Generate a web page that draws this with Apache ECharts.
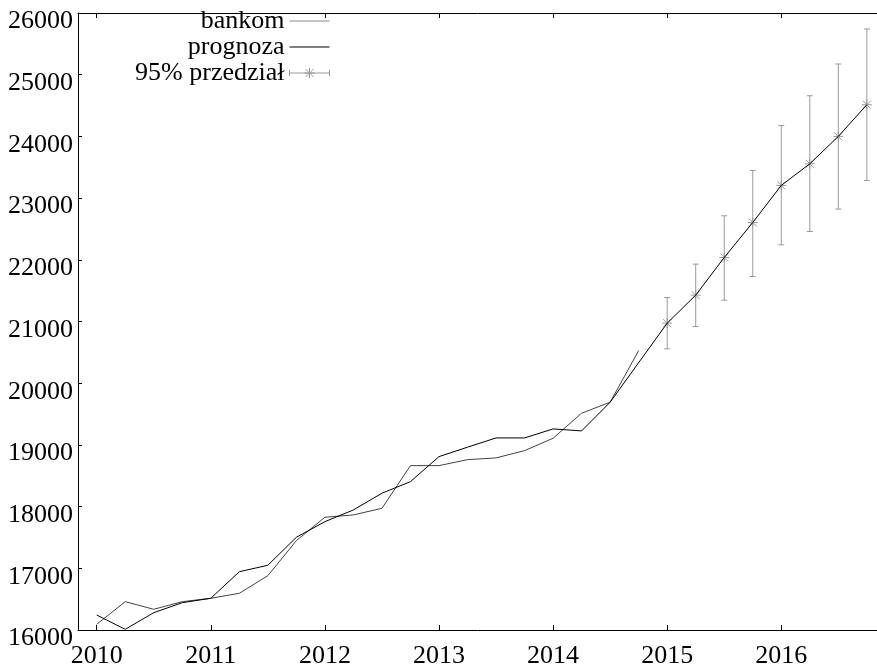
<!DOCTYPE html>
<html>
<head>
<meta charset="utf-8">
<script src="https://cdn.jsdelivr.net/npm/echarts@6/dist/echarts.min.js"></script>
<style>
  html, body { margin: 0; padding: 0; background: #fff; }
  #chart { width: 877px; height: 670px; }
</style>
</head>
<body>
<div id="chart"></div>
<script>
// Quarterly time points (decimal years)
const quarters = [
  2010, 2010.25, 2010.5, 2010.75,
  2011, 2011.25, 2011.5, 2011.75,
  2012, 2012.25, 2012.5, 2012.75,
  2013, 2013.25, 2013.5, 2013.75,
  2014, 2014.25, 2014.5, 2014.75
];

// Observed series
const bankom = [
  16092, 16459, 16336, 16459,
  16514, 16595, 16880, 17448,
  17827, 17865, 17973, 18664,
  18664, 18761, 18789, 18907,
  19108, 19514, 19692, 20529
];

// Fitted values of the model (2010 – 2014.5)
const prognozaFit = [
  16243, 16011, 16281, 16443,
  16514, 16945, 17049, 17503,
  17756, 17946, 18217, 18405,
  18810, 18963, 19113, 19113,
  19259, 19227, 19692
];

// Forecast horizon with its 95% interval
const forecastX = [2015, 2015.25, 2015.5, 2015.75, 2016, 2016.25, 2016.5, 2016.75];
const forecast  = [20973, 21427, 22037, 22605, 23205, 23556, 24000, 24513];
const lower95   = [20557, 20918, 21346, 21729, 22243, 22459, 22822, 23286];
const upper95   = [21388, 21930, 22713, 23448, 24177, 24659, 25173, 25741];

// Axis ticks
const yearTicks = [2010, 2011, 2012, 2013, 2014, 2015, 2016];
const topYearTicks = [2010, 2012, 2013, 2014, 2015, 2016];

const FONT = '"Liberation Serif", "DejaVu Serif", serif';
const BAR_COLOR = '#9a9a9a';

const bankomData = quarters.map((q, i) => [q, bankom[i]]);
const prognozaData = quarters.slice(0, prognozaFit.length)
  .map((q, i) => [q, prognozaFit[i]])
  .concat(forecastX.map((q, i) => [q, forecast[i]]));
const intervalData = forecastX.map((q, i) => [q, forecast[i], lower95[i], upper95[i]]);

function renderErrorBar(params, api) {
  const x = api.value(0);
  const c = api.coord([x, api.value(1)]);
  const lo = api.coord([x, api.value(2)]);
  const hi = api.coord([x, api.value(3)]);
  const cap = 3, s = 5, d = 4;
  const style = { stroke: BAR_COLOR, lineWidth: 1, fill: null };
  const seg = (x1, y1, x2, y2) => ({ type: 'line', shape: { x1, y1, x2, y2 }, style });
  return {
    type: 'group',
    children: [
      seg(lo[0], lo[1], hi[0], hi[1]),
      seg(lo[0] - cap, lo[1], lo[0] + cap, lo[1]),
      seg(hi[0] - cap, hi[1], hi[0] + cap, hi[1]),
      // asterisk marker
      seg(c[0] - s, c[1], c[0] + s, c[1]),
      seg(c[0], c[1] - s, c[0], c[1] + s),
      seg(c[0] - d, c[1] - d, c[0] + d, c[1] + d),
      seg(c[0] - d, c[1] + d, c[0] + d, c[1] - d)
    ]
  };
}

// Plain line sample for legend entries (corner moves keep the box 40x14)
const LINE_ICON = 'path://M0,0M40,14M0,7L40,7';
const BAR_ICON = 'path://M0,7L40,7M0,4L0,10M40,4L40,10M15,7L25,7M20,2L20,12M16,3L24,11M16,11L24,3';

const chart = echarts.init(document.getElementById('chart'), null, { renderer: 'canvas' });

chart.setOption({
  animation: false,
  backgroundColor: '#fff',
  grid: { left: 78, top: 13, width: 799, height: 617, containLabel: false },
  legend: {
    orient: 'vertical',
    align: 'right',
    right: 547,
    top: 8,
    padding: 0,
    itemGap: 0,
    itemWidth: 40,
    itemHeight: 14,
    textStyle: { fontFamily: FONT, fontSize: 26, color: '#000' },
    data: [
      { name: 'bankom', icon: LINE_ICON,
        itemStyle: { color: 'transparent', borderColor: '#8a8a8a', borderWidth: 1 } },
      { name: 'prognoza', icon: LINE_ICON,
        itemStyle: { color: 'transparent', borderColor: '#000', borderWidth: 1 } },
      { name: '95% przedział', icon: BAR_ICON,
        itemStyle: { color: 'transparent', borderColor: BAR_COLOR, borderWidth: 1 } }
    ]
  },
  xAxis: [
    {
      type: 'value',
      position: 'bottom',
      min: 2009.836,
      max: 2016.839,
      splitLine: { show: false },
      axisLine: { show: true, onZero: false, lineStyle: { color: '#000', width: 1 } },
      axisTick: { show: true, inside: true, length: 5, customValues: yearTicks, lineStyle: { color: '#000' } },
      axisLabel: {
        customValues: yearTicks,
        formatter: v => String(Math.round(v)),
        fontFamily: FONT, fontSize: 26, color: '#000', margin: 13
      }
    },
    {
      type: 'value',
      position: 'top',
      min: 2009.836,
      max: 2016.839,
      splitLine: { show: false },
      axisLine: { show: true, onZero: false, lineStyle: { color: '#000', width: 1 } },
      axisTick: { show: true, inside: true, length: 5, customValues: topYearTicks, lineStyle: { color: '#000' } },
      axisLabel: { show: false }
    }
  ],
  yAxis: {
    type: 'value',
    min: 16000,
    max: 26000,
    interval: 1000,
    splitLine: { show: false },
    axisLine: { show: true, onZero: false, lineStyle: { color: '#000', width: 1 } },
    axisTick: { show: true, inside: true, length: 4, lineStyle: { color: '#000' } },
    axisLabel: {
      formatter: v => String(v),
      fontFamily: FONT, fontSize: 26, color: '#000', margin: 5,
      verticalAlign: 'top',
      lineHeight: 17
    }
  },
  series: [
    {
      name: 'bankom',
      type: 'line',
      data: bankomData,
      symbol: 'none',
      color: '#8a8a8a',
      lineStyle: { color: '#444', width: 1 },
      z: 3
    },
    {
      name: 'prognoza',
      type: 'line',
      data: prognozaData,
      symbol: 'none',
      color: '#000',
      lineStyle: { color: '#000', width: 1 },
      z: 3
    },
    {
      name: '95% przedział',
      type: 'custom',
      data: intervalData,
      renderItem: renderErrorBar,
      encode: { x: 0, y: [1, 2, 3] },
      z: 2
    }
  ]
});
</script>
</body>
</html>
